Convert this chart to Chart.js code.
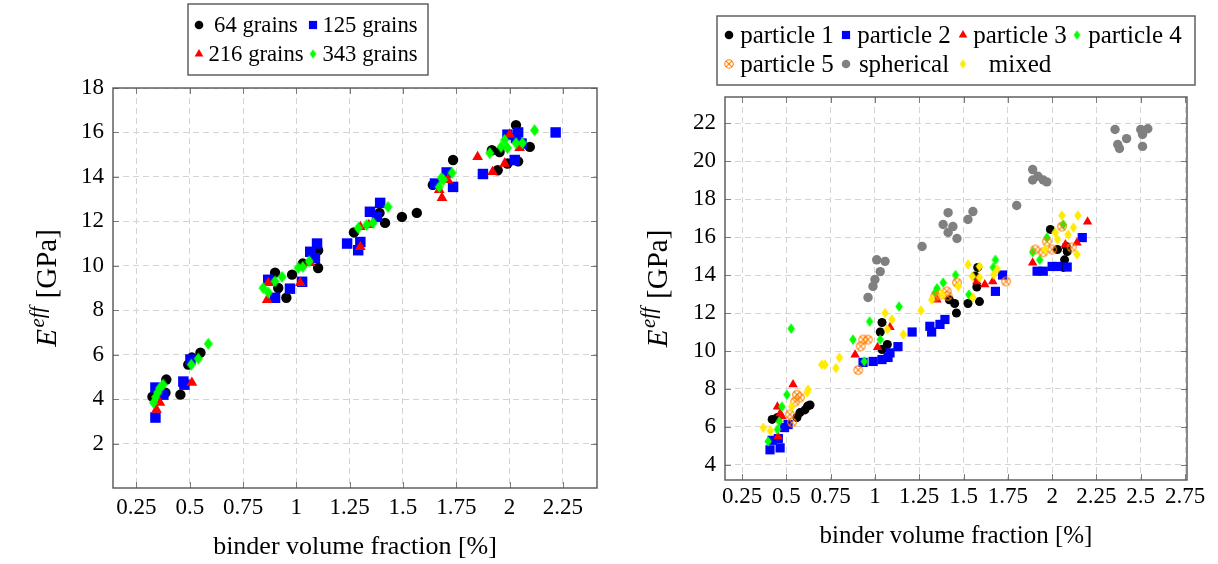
<!DOCTYPE html>
<html>
<head>
<meta charset="utf-8">
<script src="https://cdn.jsdelivr.net/npm/chart.js@4.4.1/dist/chart.umd.min.js"></script>
<style>
  html, body { margin: 0; padding: 0; background: #fff; }
  #wrap { position: relative; width: 1218px; height: 564px; overflow: hidden; }
  canvas { position: absolute; top: 0; }
  #left { left: 0; }
  #right { left: 609px; }
</style>
</head>
<body>
<div id="wrap">
  <canvas id="left" width="609" height="564"></canvas>
  <canvas id="right" width="609" height="564"></canvas>
</div>
<script>
// ---------- left plot: number of grains ----------
const leftXTicks = [0.25, 0.5, 0.75, 1, 1.25, 1.5, 1.75, 2, 2.25];
const leftYTicks = [2, 4, 6, 8, 10, 12, 14, 16, 18];
const grainLabels = ['64 grains', '125 grains', '216 grains', '343 grains'];

const g64X = [0.325, 0.386, 0.39, 0.456, 0.493, 0.51, 0.55, 0.9, 0.915, 0.953, 0.98, 1.03, 1.102, 1.102, 1.27, 1.39, 1.416, 1.495, 1.565, 1.64, 1.735, 1.917, 1.944, 1.953, 1.99, 2.03, 2.04, 2.095];
const g64Y = [4.11, 4.29, 4.88, 4.2, 5.55, 5.87, 6.09, 9.69, 9.0, 8.56, 9.6, 10.1, 10.7, 9.9, 11.5, 12.38, 11.93, 12.2, 12.38, 13.64, 14.76, 15.2, 14.3, 15.12, 14.6, 16.33, 14.7, 15.35];
const g125X = [0.339, 0.339, 0.376, 0.47, 0.475, 0.503, 0.868, 0.9, 0.97, 1.027, 1.065, 1.087, 1.097, 1.238, 1.29, 1.3, 1.345, 1.378, 1.393, 1.65, 1.705, 1.735, 1.875, 2.024, 1.99, 2.03, 2.04, 2.056, 2.216];
const g125Y = [4.52, 3.17, 4.2, 4.79, 4.65, 5.78, 9.37, 8.56, 8.97, 9.28, 10.63, 10.35, 11.0, 11.0, 10.7, 11.07, 12.43, 12.2, 12.83, 13.7, 14.2, 13.55, 14.13, 14.76, 15.9, 15.75, 16.0, 15.5, 16.0];
const g216X = [0.344, 0.36, 0.51, 0.863, 0.868, 1.018, 1.065, 1.3, 1.3, 1.34, 1.67, 1.683, 1.71, 1.85, 1.92, 1.977, 2.0, 2.047];
const g216Y = [3.53, 3.84, 4.74, 8.47, 9.23, 9.23, 10.13, 10.85, 11.75, 11.84, 13.42, 13.06, 13.87, 14.9, 14.22, 14.6, 15.9, 15.3];
const g343X = [0.33, 0.34, 0.35, 0.36, 0.375, 0.507, 0.54, 0.587, 0.844, 0.868, 0.9, 0.933, 1.008, 1.03, 1.06, 1.29, 1.33, 1.36, 1.43, 1.67, 1.68, 1.69, 1.73, 1.907, 1.96, 1.977, 1.99, 2.03, 2.06, 2.117];
const g343Y = [3.84, 4.1, 4.3, 4.5, 4.65, 5.55, 5.82, 6.49, 9.0, 8.8, 9.3, 9.5, 9.9, 9.95, 10.2, 11.7, 11.84, 11.93, 12.65, 13.55, 13.95, 13.87, 14.18, 15.07, 15.35, 15.66, 15.3, 15.52, 15.52, 16.1];

// ---------- right plot: particle shapes ----------
const rightXTicks = [0.25, 0.5, 0.75, 1, 1.25, 1.5, 1.75, 2, 2.25, 2.5, 2.75];
const rightYTicks = [4, 6, 8, 10, 12, 14, 16, 18, 20, 22];
const shapeLabels = ['particle 1', 'particle 2', 'particle 3', 'particle 4', 'particle 5', 'spherical', 'mixed'];

const p1X = [0.42, 0.45, 0.56, 0.577, 0.605, 0.62, 0.634, 1.03, 1.04, 1.04, 1.07, 1.42, 1.45, 1.46, 1.525, 1.565, 1.575, 1.58, 1.59, 1.99, 2.03, 2.063, 2.07, 2.08, 2.085];
const p1Y = [6.4, 6.5, 6.5, 6.76, 6.9, 7.1, 7.16, 11.0, 11.5, 10.08, 10.34, 12.7, 12.5, 12.0, 12.5, 13.95, 13.37, 14.4, 12.6, 16.4, 15.34, 14.4, 14.8, 15.5, 15.24];
const p2X = [0.408, 0.465, 0.42, 0.455, 0.49, 0.51, 0.933, 0.99, 1.04, 1.074, 1.085, 1.13, 1.21, 1.31, 1.32, 1.367, 1.395, 1.68, 1.72, 1.915, 1.95, 2.0, 2.03, 2.085, 2.17];
const p2Y = [4.8, 4.9, 5.3, 5.39, 5.97, 6.13, 9.4, 9.45, 9.55, 9.66, 9.9, 10.23, 11.0, 11.3, 11.0, 11.4, 11.66, 13.14, 14.0, 14.2, 14.2, 14.45, 14.45, 14.42, 15.97];
const p3X = [0.453, 0.475, 0.465, 0.45, 0.538, 0.888, 1.015, 1.085, 1.35, 1.575, 1.62, 1.665, 1.89, 2.075, 2.14, 2.2];
const p3Y = [5.5, 6.55, 6.71, 7.07, 8.24, 9.8, 10.2, 11.25, 12.7, 13.66, 13.5, 13.66, 14.65, 15.6, 15.7, 16.8];
const p4X = [0.397, 0.45, 0.46, 0.475, 0.503, 0.527, 0.876, 0.94, 0.97, 1.03, 1.136, 1.34, 1.35, 1.385, 1.455, 1.53, 1.668, 1.68, 1.89, 1.93, 1.97, 2.063];
const p4Y = [5.24, 5.87, 6.29, 7.07, 7.7, 11.18, 10.6, 9.45, 11.55, 10.6, 12.34, 13.08, 13.3, 13.6, 14.0, 12.97, 14.4, 14.8, 15.2, 14.8, 15.97, 16.66];
const p5X = [0.532, 0.52, 0.55, 0.56, 0.577, 0.906, 0.92, 0.934, 0.96, 1.34, 1.367, 1.405, 1.41, 1.463, 1.74, 1.905, 1.95, 1.97, 2.0, 2.055, 2.11];
const p5Y = [6.24, 6.66, 7.34, 7.7, 7.55, 9.0, 10.25, 10.6, 10.6, 12.87, 12.97, 13.14, 12.9, 13.6, 13.66, 15.34, 15.2, 15.76, 15.34, 16.55, 15.45];
const sphX = [0.961, 0.989, 1.0, 1.01, 1.03, 1.057, 1.266, 1.385, 1.413, 1.413, 1.44, 1.463, 1.525, 1.553, 1.8, 1.89, 1.89, 1.92, 1.95, 1.97, 2.355, 2.37, 2.38, 2.42, 2.5, 2.51, 2.51, 2.54];
const sphY = [12.82, 13.4, 13.76, 14.8, 14.18, 14.72, 15.5, 16.66, 17.28, 16.24, 16.55, 15.92, 16.92, 17.34, 17.66, 19.55, 19.0, 19.2, 19.0, 18.9, 21.66, 20.87, 20.66, 21.18, 21.66, 21.4, 20.77, 21.7];
const mixX = [0.37, 0.41, 0.53, 0.617, 0.623, 0.7, 0.718, 0.78, 0.8, 1.057, 1.07, 1.096, 1.16, 1.26, 1.32, 1.38, 1.47, 1.525, 1.55, 1.553, 1.59, 1.59, 1.67, 1.69, 1.96, 2.017, 2.03, 2.055, 2.09, 2.12, 2.14, 2.145];
const mixY = [5.96, 5.8, 7.07, 7.82, 7.97, 9.28, 9.28, 9.1, 9.65, 12.0, 11.14, 11.66, 10.87, 12.13, 12.7, 12.97, 13.4, 14.55, 13.92, 12.82, 14.45, 13.87, 14.02, 14.3, 15.34, 16.24, 15.87, 17.13, 16.13, 16.5, 15.08, 17.13];

const SERIF = '"Liberation Serif", "Times New Roman", serif';

const pairs = (xs, ys) => xs.map((x, i) => ({ x: x, y: ys[i] }));

// pgfplots-like marks that chart.js has no built-in for
function diamondMark(w, h, color) {
  const c = document.createElement('canvas');
  c.width = Math.ceil(w) + 2; c.height = Math.ceil(h) + 2;
  const ctx = c.getContext('2d');
  const cx = c.width / 2, cy = c.height / 2;
  ctx.fillStyle = color;
  ctx.beginPath();
  ctx.moveTo(cx, cy - h / 2); ctx.lineTo(cx + w / 2, cy);
  ctx.lineTo(cx, cy + h / 2); ctx.lineTo(cx - w / 2, cy);
  ctx.closePath(); ctx.fill();
  return c;
}
function otimesMark(r, color) {
  const s = Math.ceil(2 * r + 3);
  const c = document.createElement('canvas');
  c.width = c.height = s;
  const ctx = c.getContext('2d');
  const m = s / 2, d = r * Math.SQRT1_2;
  ctx.strokeStyle = color; ctx.lineWidth = 1.1;
  ctx.beginPath(); ctx.arc(m, m, r, 0, Math.PI * 2); ctx.stroke();
  ctx.beginPath();
  ctx.moveTo(m - d, m - d); ctx.lineTo(m + d, m + d);
  ctx.moveTo(m + d, m - d); ctx.lineTo(m - d, m + d);
  ctx.stroke();
  return c;
}

function scatterSet(label, xs, ys, mark, n, i) {
  return {
    label: label,
    data: pairs(xs, ys),
    pointStyle: mark.shape,
    pointRadius: mark.r,
    pointBackgroundColor: mark.color,
    pointBorderColor: mark.color,
    pointBorderWidth: 0,
    order: n - i   // later series on top, like pgfplots
  };
}

// frame, inward ticks, axis titles and the boxed legend
const framePlugin = {
  id: 'frame',
  afterDraw(chart, args, o) {
    const ctx = chart.ctx, a = chart.chartArea, sx = chart.scales.x, sy = chart.scales.y;
    ctx.save();
    ctx.strokeStyle = '#7a7a7a'; ctx.lineWidth = 1;
    ctx.beginPath();
    sx.ticks.forEach(t => {
      const px = Math.round(sx.getPixelForValue(t.value)) + 0.5;
      ctx.moveTo(px, a.top); ctx.lineTo(px, a.top + 6);
      ctx.moveTo(px, a.bottom); ctx.lineTo(px, a.bottom - 6);
    });
    sy.ticks.forEach(t => {
      const py = Math.round(sy.getPixelForValue(t.value)) + 0.5;
      ctx.moveTo(a.left, py); ctx.lineTo(a.left + 6, py);
      ctx.moveTo(a.right, py); ctx.lineTo(a.right - 6, py);
    });
    ctx.stroke();
    ctx.strokeStyle = '#555'; ctx.lineWidth = 1.4;
    ctx.strokeRect(a.left, a.top, a.right - a.left, a.bottom - a.top);

    // x title
    ctx.fillStyle = '#000';
    ctx.font = o.xTitleSize + 'px ' + SERIF;
    ctx.textAlign = 'center'; ctx.textBaseline = 'middle';
    ctx.fillText('binder volume fraction [%]', (a.left + a.right) / 2, o.xTitleY);

    // y title  E^{eff} [GPa]
    const S = o.yTitleSize;
    ctx.save();
    ctx.translate(o.yTitleX, (a.top + a.bottom) / 2);
    ctx.rotate(-Math.PI / 2);
    ctx.textAlign = 'left'; ctx.textBaseline = 'alphabetic';
    const fE = 'italic ' + S + 'px ' + SERIF, fS = 'italic ' + (S * 0.72) + 'px ' + SERIF, fN = S + 'px ' + SERIF;
    ctx.font = fE; const wE = ctx.measureText('E').width + 1.5;
    ctx.font = fS; const wS = ctx.measureText('eff').width + 1;
    ctx.font = fN; const wN = ctx.measureText(' [GPa]').width;
    let cx = -(wE + wS + wN) / 2;
    ctx.font = fE; ctx.fillText('E', cx, 0); cx += wE;
    ctx.font = fS; ctx.fillText('eff', cx, -S * 0.42); cx += wS;
    ctx.font = fN; ctx.fillText(' [GPa]', cx, 0);
    ctx.restore();

    // legend
    const L = o.legend;
    ctx.fillStyle = '#fff';
    ctx.fillRect(L.box[0], L.box[1], L.box[2], L.box[3]);
    ctx.strokeStyle = '#555'; ctx.lineWidth = 1.4;
    ctx.strokeRect(L.box[0], L.box[1], L.box[2], L.box[3]);
    ctx.font = L.size + 'px ' + SERIF;
    ctx.textAlign = 'center'; ctx.textBaseline = 'middle';
    L.labels.forEach((text, i) => {
      const row = Math.floor(i / L.cols), col = i % L.cols;
      const y = L.rows[row];
      const m = L.marks[i];
      ctx.fillStyle = m.color;
      Chart.helpers.drawPoint(ctx, { pointStyle: m.shape, radius: m.r, rotation: 0, borderWidth: 0 }, L.markX[col], y);
      ctx.fillStyle = '#000';
      ctx.fillText(text, L.textX[col], y + 1);
    });
    ctx.restore();
  }
};

function axes(xmin, xmax, ymin, ymax, xt, yt, yWidth, xHeight, xPad, tickSize) {
  const tickFont = { family: SERIF, size: tickSize };
  return {
    x: {
      type: 'linear', min: xmin, max: xmax,
      afterBuildTicks: s => { s.ticks = xt.map(v => ({ value: v })); },
      afterFit: s => { s.height = xHeight; },
      ticks: { font: tickFont, color: '#000', padding: xPad, autoSkip: false, maxRotation: 0, callback: v => String(v) },
      grid: { color: '#d4d4d4', lineWidth: 1, drawTicks: false },
      border: { display: false, dash: [6, 4] }
    },
    y: {
      type: 'linear', min: ymin, max: ymax,
      afterBuildTicks: s => { s.ticks = yt.map(v => ({ value: v })); },
      afterFit: s => { s.width = yWidth; },
      ticks: { font: tickFont, color: '#000', padding: 9, autoSkip: false, callback: v => String(v) },
      grid: { color: '#d4d4d4', lineWidth: 1, drawTicks: false },
      border: { display: false, dash: [6, 4] }
    }
  };
}

// ---------- left chart ----------
const leftMarks = [
  { shape: 'circle', r: 5.2, color: '#000000' },
  { shape: 'rect', r: 7.4, color: '#0000ff' },
  { shape: 'triangle', r: 6.2, color: '#ff0000' },
  { shape: diamondMark(9, 12, '#00ff00'), r: 6, color: '#00ff00' }
];
const leftLegendMarks = [
  { shape: 'circle', r: 4.3, color: '#000000' },
  { shape: 'rect', r: 5.8, color: '#0000ff' },
  { shape: 'triangle', r: 5, color: '#ff0000' },
  { shape: diamondMark(6.5, 9.5, '#00ff00'), r: 5, color: '#00ff00' }
];
const leftSeries = [[g64X, g64Y], [g125X, g125Y], [g216X, g216Y], [g343X, g343Y]];

new Chart(document.getElementById('left'), {
  type: 'scatter',
  data: { datasets: leftSeries.map((s, i) => scatterSet(grainLabels[i], s[0], s[1], leftMarks[i], 4, i)) },
  options: {
    responsive: false, animation: false, events: [],
    layout: { padding: { left: 0, right: 12, top: 88, bottom: 0 } },
    scales: axes(0.14, 2.41, 0, 18, leftXTicks, leftYTicks, 113, 76, 6, 23),
    plugins: {
      legend: { display: false }, tooltip: { enabled: false },
      frame: {
        xTitleSize: 26, xTitleY: 547, yTitleSize: 29, yTitleX: 56,
        legend: {
          box: [188, 4, 240, 71], cols: 2, rows: [25, 54],
          markX: [199, 313], textX: [256, 370], size: 22.7,
          labels: grainLabels, marks: leftLegendMarks
        }
      }
    }
  },
  plugins: [framePlugin]
});

// ---------- right chart ----------
const rightMarks = [
  { shape: 'circle', r: 4.5, color: '#000000' },
  { shape: 'rect', r: 6.5, color: '#0000ff' },
  { shape: 'triangle', r: 5.5, color: '#ff0000' },
  { shape: diamondMark(7.5, 10.5, '#00ff00'), r: 5, color: '#00ff00' },
  { shape: otimesMark(4.3, '#ff8000'), r: 4.3, color: '#ff8000' },
  { shape: 'circle', r: 4.7, color: '#808080' },
  { shape: diamondMark(7.5, 10.5, '#ffea00'), r: 5, color: '#ffea00' }
];
const rightLegendMarks = [
  { shape: 'circle', r: 4.3, color: '#000000' },
  { shape: 'rect', r: 5.8, color: '#0000ff' },
  { shape: 'triangle', r: 5, color: '#ff0000' },
  { shape: diamondMark(6.5, 9.5, '#00ff00'), r: 5, color: '#00ff00' },
  { shape: otimesMark(4.2, '#ff8000'), r: 4.2, color: '#ff8000' },
  { shape: 'circle', r: 4.3, color: '#808080' },
  { shape: diamondMark(6.5, 9.5, '#ffea00'), r: 5, color: '#ffea00' }
];
const rightSeries = [[p1X, p1Y], [p2X, p2Y], [p3X, p3Y], [p4X, p4Y], [p5X, p5Y], [sphX, sphY], [mixX, mixY]];

new Chart(document.getElementById('right'), {
  type: 'scatter',
  data: { datasets: rightSeries.map((s, i) => scatterSet(shapeLabels[i], s[0], s[1], rightMarks[i], 7, i)) },
  options: {
    responsive: false, animation: false, events: [],
    layout: { padding: { left: 0, right: 31, top: 97, bottom: 0 } },
    scales: axes(0.154, 2.761, 3.21, 23.37, rightXTicks, rightYTicks, 116, 84, 3, 23),
    plugins: {
      legend: { display: false }, tooltip: { enabled: false },
      frame: {
        xTitleSize: 25, xTitleY: 536, yTitleSize: 29, yTitleX: 58,
        legend: {
          box: [108, 16, 478, 69], cols: 4, rows: [35, 64],
          markX: [120, 237, 354, 468], textX: [178, 295, 411, 526], size: 25,
          labels: shapeLabels, marks: rightLegendMarks
        }
      }
    }
  },
  plugins: [framePlugin]
});
</script>
</body>
</html>
